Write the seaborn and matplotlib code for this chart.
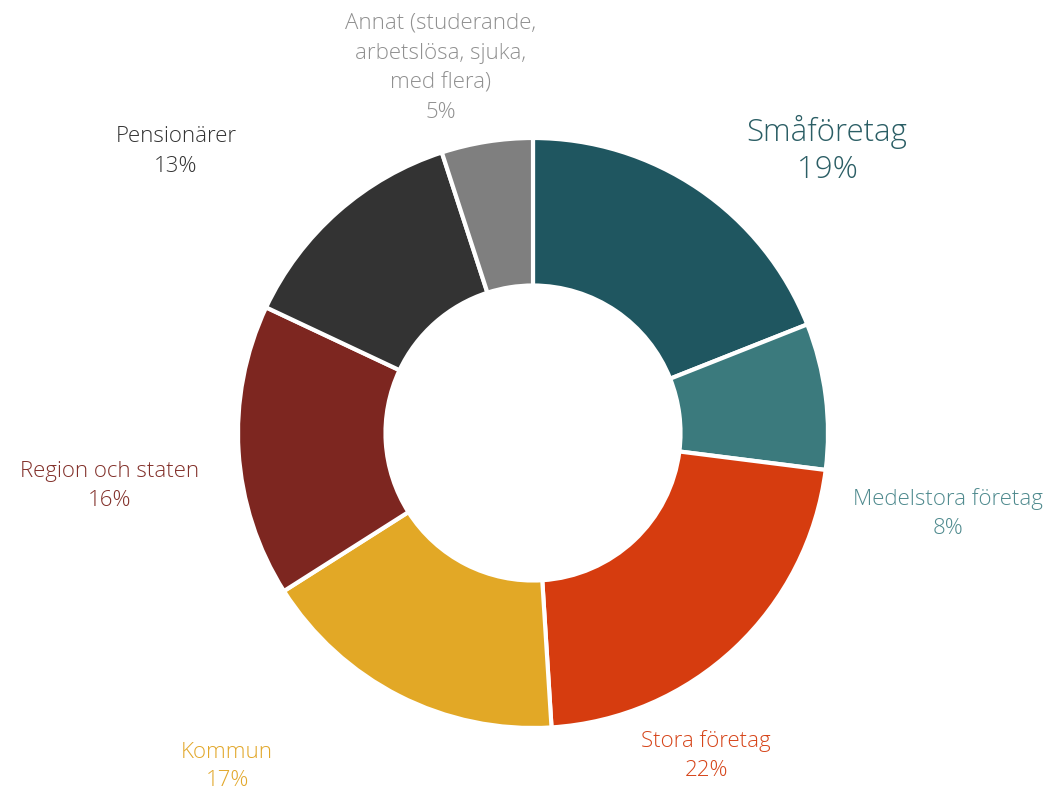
import matplotlib
matplotlib.use("Agg")
import matplotlib.pyplot as plt
import seaborn as sns

categories = ["Småföretag", "Medelstora företag", "Stora företag", "Kommun",
              "Region och staten", "Pensionärer",
              "Annat (studerande,\narbetslösa, sjuka,\nmed flera)"]
values = [19, 8, 22, 17, 16, 13, 5]
pct_labels = ["19%", "8%", "22%", "17%", "16%", "13%", "5%"]

wedge_colors = ["#1F5660", "#3B7A7D", "#D63C0F", "#E2A826", "#7D2620", "#333333", "#7F7F7F"]
text_colors = ["#2B5E65", "#4F8A8E", "#D6451A", "#E2A82C", "#82302A", "#333333", "#909090"]

# label anchor positions in pixels (x, y of top line's centre, from top)
label_pos = [(827, 132), (948, 499), (706, 741), (227, 753), (110, 471), (176, 136), (441, 23)]
label_size = [22.5, 16, 16, 16, 16, 16, 16]
line_gap = [38, 30, 29, 28, 30, 30, 30]

sns.set_theme(style="white")
plt.rcParams['font.family'] = ['Open Sans', 'DejaVu Sans']

W, H = 1052, 792
fig = plt.figure(figsize=(W / 100, H / 100), dpi=100)
ax = fig.add_axes([0, 0, 1, 1])

cx, cy, r = 533, H - 433, 295
ax.pie(values, colors=wedge_colors, startangle=90, counterclock=False,
       center=(cx, cy), radius=r, frame=True,
       wedgeprops=dict(width=r * 0.5, edgecolor="white", linewidth=3))
ax.set_xlim(0, W)
ax.set_ylim(0, H)
ax.set_aspect("equal")
ax.axis("off")

for i, (cat, pct) in enumerate(zip(categories, pct_labels)):
    x, y = label_pos[i]
    lines = cat.split("\n") + [pct]
    for j, line in enumerate(lines):
        ax.text(x, H - (y + j * line_gap[i]), line, ha="center", va="center",
                fontsize=label_size[i], color=text_colors[i], fontweight="light")

fig.savefig("out.png", dpi=100)
